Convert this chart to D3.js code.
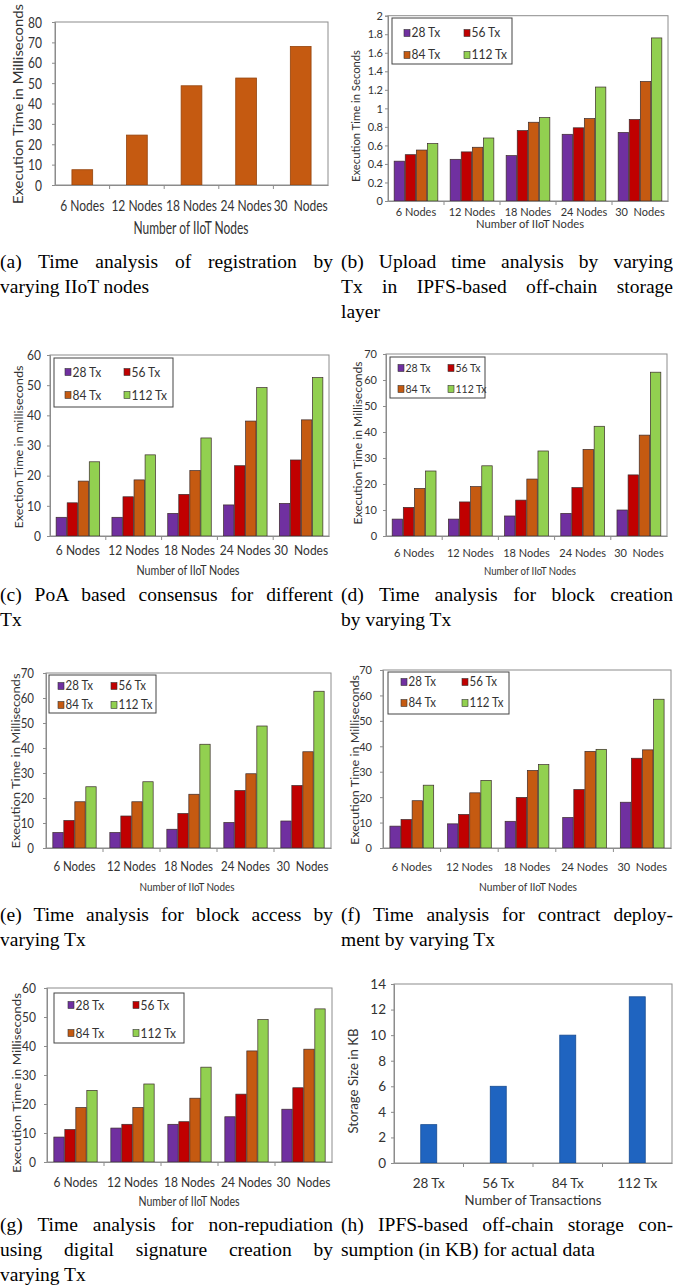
<!DOCTYPE html>
<html>
<head>
<meta charset="utf-8">
<script src="https://cdn.jsdelivr.net/npm/d3@7"></script>
<style>
body { margin: 0; background: #fff; }
svg text { white-space: pre; }
</style>
</head>
<body>
<svg id="fig"></svg>
<script>
var width = 673;
var height = 1288;

// categories and series
var nodeCats = ["6 Nodes", "12 Nodes", "18 Nodes", "24 Nodes", "30  Nodes"];
var txCats = ["28 Tx", "56 Tx", "84 Tx", "112 Tx"];
var txColors = ["#7030A0", "#C00000", "#C55A11", "#92D050"];

// (a) registration, ms
var registration = [7.5, 24.5, 48.7, 52.5, 68];
// (b) upload time, s  (rows: 28, 56, 84, 112 Tx)
var uploadTime = [
    [0.43, 0.45, 0.49, 0.72, 0.74],
    [0.50, 0.53, 0.76, 0.79, 0.88],
    [0.55, 0.58, 0.85, 0.89, 1.29],
    [0.62, 0.68, 0.90, 1.23, 1.76]
];
// (c) PoA consensus, ms
var consensusTime = [
    [6.2, 6.2, 7.5, 10.3, 10.8],
    [11, 13, 13.8, 23.3, 25.2],
    [18.2, 18.6, 21.7, 38.1, 38.5],
    [24.6, 26.9, 32.5, 49.2, 52.5]
];
// (d) block creation, ms
var blockCreation = [
    [6.5, 6.5, 7.7, 8.7, 10],
    [11, 13.1, 13.8, 18.6, 23.5],
    [18.3, 19, 21.9, 33.3, 38.8],
    [25, 27, 32.7, 42.2, 63]
];
// (e) block access, ms
var blockAccess = [
    [6.2, 6.2, 7.5, 10.2, 10.8],
    [11, 12.8, 13.8, 23, 25],
    [18.5, 18.5, 21.5, 29.7, 38.5],
    [24.5, 26.5, 41.5, 48.8, 62.7]
];
// (f) contract deployment, ms
var contractDeploy = [
    [8.6, 9.5, 10.5, 12, 18],
    [11.2, 13.2, 19.9, 23, 35.3],
    [18.6, 21.7, 30.5, 38, 38.6],
    [24.7, 26.6, 32.8, 38.8, 58.5]
];
// (g) signature creation, ms
var signatureTime = [
    [8.6, 11.7, 13, 15.6, 18.2],
    [11.2, 13, 13.9, 23.4, 25.6],
    [18.8, 18.8, 22, 38.3, 38.9],
    [24.7, 26.9, 32.7, 49.1, 52.8]
];
// (h) storage, KB
var storageKB = [3, 6, 10, 13];

// tick values
var ticks80 = [0, 10, 20, 30, 40, 50, 60, 70, 80];
var ticks2 = [0, 0.2, 0.4, 0.6, 0.8, 1, 1.2, 1.4, 1.6, 1.8, 2];
var ticks60 = [0, 10, 20, 30, 40, 50, 60];
var ticks70 = [0, 10, 20, 30, 40, 50, 60, 70];
var ticks14 = [0, 2, 4, 6, 8, 10, 12, 14];

var FONT = "Lato, 'Open Sans', sans-serif";
var SERIF = "'Liberation Serif', 'Times New Roman', serif";

const svg = d3.select('#fig')
    .attr('width', width)
    .attr('height', height);

var panels = [
    { cats: nodeCats, values: registration, color: "#C55A11", left: 55, right: 328, top: 22, bottom: 185, max: 80, ticks: ticks80,
      pad: 0.62, tp: 10, fs: 12, k: 1.35, xl: 26, xt: [191, 234, 115], tfs: 12.5, yt: [23, 104, 200], yLabel: "Execution Time in Milliseconds" },
    { cats: nodeCats, series: uploadTime, left: 388, right: 668, top: 15.7, bottom: 201, max: 2, ticks: ticks2,
      pad: 0.22, tp: 2, fs: 11, k: 1.05, xl: 15, xt: [530, 228, 108], tfs: 11, yt: [360, 116, 132], yLabel: "Execution Time in Seconds",
      legend: { box: [392, 18, 120, 46], cols: [404, 464], rows: [33, 55], fs: 12 } },
    { cats: nodeCats, series: consensusTime, left: 50, right: 329, top: 355, bottom: 536, max: 60, ticks: ticks60,
      pad: 0.22, tp: 6, fs: 12, k: 1.1, xl: 19, xt: [188, 575, 103], tfs: 12, yt: [23, 447, 163], yLabel: "Exection Time in milliseconds",
      legend: { box: [54, 358, 119, 49], cols: [65, 124], rows: [372, 395], fs: 12 } },
    { cats: nodeCats, series: blockCreation, left: 386, right: 667, top: 354, bottom: 536, max: 70, ticks: ticks70,
      pad: 0.22, tp: 6, fs: 11, k: 1.1, xl: 21, xt: [530, 575, 92], tfs: 11, yt: [362, 443, 163], yLabel: "Execution Time in Milliseconds",
      legend: { box: [390, 357, 95, 41], cols: [398, 448], rows: [368, 389], fs: 10.5 } },
    { cats: nodeCats, series: blockAccess, left: 46, right: 331, top: 673, bottom: 848, max: 70, ticks: ticks70,
      pad: 0.24, tp: 9, fs: 11.5, k: 1.1, xl: 23, xt: [187, 891, 95], tfs: 11, yt: [20, 761, 175], yLabel: "Execution Time in Milliseconds",
      legend: { box: [49, 675, 107, 38], cols: [58, 111], rows: [686, 705], fs: 11.5 } },
    { cats: nodeCats, series: contractDeploy, left: 383, right: 671, top: 670, bottom: 848, max: 70, ticks: ticks70,
      pad: 0.24, tp: 8, fs: 11, k: 1.1, xl: 23, xt: [528, 891, 98], tfs: 11, yt: [359, 760, 170], yLabel: "Execution Time in Milliseconds",
      legend: { box: [388, 672, 121, 42], cols: [401, 462], rows: [682, 703], fs: 11.5 } },
    { cats: nodeCats, series: signatureTime, left: 47, right: 332, top: 988, bottom: 1162, max: 60, ticks: ticks60,
      pad: 0.24, tp: 8, fs: 12, k: 1.15, xl: 25, xt: [189, 1206, 101], tfs: 11.5, yt: [21, 1083, 180], yLabel: "Execution Time in Milliseconds",
      legend: { box: [54, 993, 130, 50], cols: [68, 133], rows: [1005, 1033], fs: 12 } },
    { cats: txCats, values: storageKB, color: "#1F64C0", left: 394, right: 672, top: 984, bottom: 1163, max: 14, ticks: ticks14,
      pad: 0.77, tp: 5, fs: 13.5, k: 1, xl: 25, xt: [533, 1205, 137], tfs: 13, yt: [358, 1081, 105], yLabel: "Storage Size in KB",
      xLabel: "Number of Transactions" }
];

panels.forEach(drawPanel);

function drawPanel(p) {
    const g = svg.append('g');
    const k = p.k;
    const x = d3.scaleBand().domain(p.cats).range([p.left, p.right])
        .paddingInner(p.pad).paddingOuter(p.pad / 2);
    const y = d3.scaleLinear().domain([0, p.max]).range([p.bottom, p.top]);

    // plot frame
    g.append('rect')
        .attr('x', p.left).attr('y', p.top)
        .attr('width', p.right - p.left).attr('height', p.bottom - p.top)
        .attr('fill', 'none').attr('stroke', '#8c8c8c');

    if (p.series) {
        const x1 = d3.scaleBand().domain(d3.range(p.series.length))
            .range([0, x.bandwidth()]).paddingInner(0.06);
        g.append('g').selectAll('g')
            .data(p.cats)
            .join('g')
            .attr('transform', c => `translate(${x(c)},0)`)
            .selectAll('rect')
            .data((c, i) => p.series.map((s, j) => ({ j: j, v: s[i] })))
            .join('rect')
            .attr('x', d => x1(d.j))
            .attr('width', x1.bandwidth())
            .attr('y', d => y(d.v))
            .attr('height', d => y(0) - y(d.v))
            .attr('fill', d => txColors[d.j])
            .attr('stroke', '#3b2b2b')
            .attr('stroke-width', 0.7);
    } else {
        g.append('g').selectAll('rect')
            .data(p.values)
            .join('rect')
            .attr('x', (d, i) => x(p.cats[i]))
            .attr('width', x.bandwidth())
            .attr('y', d => y(d))
            .attr('height', d => y(0) - y(d))
            .attr('fill', p.color)
            .attr('stroke', d3.color(p.color).darker(0.8))
            .attr('stroke-width', 0.8);
    }

    // y axis
    const ya = g.append('g')
        .attr('transform', `translate(${p.left},0)`)
        .call(d3.axisLeft(y).tickValues(p.ticks).tickSize(3).tickPadding(p.tp).tickFormat(d => String(d)));
    ya.select('.domain').attr('stroke', '#8c8c8c');
    ya.selectAll('.tick line').attr('stroke', '#8c8c8c');
    ya.selectAll('text')
        .attr('font-family', FONT).attr('font-size', p.fs).attr('fill', '#333')
        .attr('transform', `scale(1,${k})`);

    // x axis
    const xa = g.append('g')
        .attr('transform', `translate(0,${p.bottom})`)
        .call(d3.axisBottom(x).tickSize(0).tickPadding(0));
    xa.select('.domain').attr('stroke', '#8c8c8c');
    xa.selectAll('text')
        .attr('dy', null).attr('y', p.xl / k)
        .attr('font-family', FONT).attr('font-size', p.fs).attr('fill', '#333')
        .attr('transform', `scale(1,${k})`);

    // separators between categories
    const off = x.step() * p.pad / 2;
    g.append('g').selectAll('line')
        .data(p.cats.slice(1))
        .join('line')
        .attr('x1', c => x(c) - off).attr('x2', c => x(c) - off)
        .attr('y1', p.bottom).attr('y2', p.bottom + 4)
        .attr('stroke', '#8c8c8c');

    // axis titles
    g.append('text')
        .attr('transform', `translate(${p.xt[0]},${p.xt[1]}) scale(1,${k})`)
        .attr('text-anchor', 'middle')
        .attr('textLength', p.xt[2]).attr('lengthAdjust', 'spacingAndGlyphs')
        .attr('font-family', FONT).attr('font-size', p.tfs).attr('fill', '#333')
        .text(p.xLabel || "Number of IIoT Nodes");
    g.append('text')
        .attr('transform', `translate(${p.yt[0]},${p.yt[1]}) rotate(-90)`)
        .attr('text-anchor', 'middle')
        .attr('textLength', p.yt[2]).attr('lengthAdjust', 'spacingAndGlyphs')
        .attr('font-family', FONT).attr('font-size', p.tfs).attr('fill', '#333')
        .text(p.yLabel);

    // legend
    if (p.legend) {
        const L = p.legend;
        const lg = g.append('g');
        lg.append('rect')
            .attr('x', L.box[0]).attr('y', L.box[1])
            .attr('width', L.box[2]).attr('height', L.box[3])
            .attr('fill', '#fff').attr('stroke', '#444');
        const item = lg.selectAll('g.item')
            .data(txCats)
            .join('g')
            .attr('class', 'item')
            .attr('transform', (d, i) => `translate(${L.cols[i % 2]},${L.rows[Math.floor(i / 2)]})`);
        item.append('rect')
            .attr('x', 0).attr('y', -3.5).attr('width', 6).attr('height', 7)
            .attr('fill', (d, i) => txColors[i])
            .attr('stroke', '#333').attr('stroke-width', 0.6);
        item.append('text')
            .attr('x', 7.5).attr('dy', '0.35em')
            .attr('transform', `scale(1,${k})`)
            .attr('font-family', FONT).attr('font-size', L.fs).attr('fill', '#333')
            .text(d => d);
    }
}

// sub-figure captions
var capLeft = [0, 333];
var capRight = [341, 673];
var captions = [
    { col: capLeft, y0: 268, lines: ["(a) Time analysis of registration by", "varying IIoT nodes"] },
    { col: capRight, y0: 268, lines: ["(b) Upload time analysis by varying", "Tx in IPFS-based off-chain storage", "layer"] },
    { col: capLeft, y0: 601, lines: ["(c) PoA based consensus for different", "Tx"] },
    { col: capRight, y0: 601, lines: ["(d) Time analysis for block creation", "by varying Tx"] },
    { col: capLeft, y0: 921, lines: ["(e) Time analysis for block access by", "varying Tx"] },
    { col: capRight, y0: 921, lines: ["(f) Time analysis for contract deploy-", "ment by varying Tx"] },
    { col: capLeft, y0: 1231, lines: ["(g) Time analysis for non-repudiation", "using digital signature creation by", "varying Tx"] },
    { col: capRight, y0: 1231, lines: ["(h) IPFS-based off-chain storage con-", "sumption (in KB) for actual data"] }
];

captions.forEach(function(c) {
    c.lines.forEach(function(line, i) {
        const t = svg.append('text')
            .attr('x', c.col[0])
            .attr('y', c.y0 + i * 25)
            .attr('font-family', SERIF)
            .attr('font-size', 19.5)
            .attr('fill', '#000')
            .text(line);
        if (i < c.lines.length - 1) {
            // justify by widening the word gaps
            const natural = t.node().getComputedTextLength();
            const gaps = (line.match(/ /g) || []).length;
            const target = c.col[1] - c.col[0];
            if (natural > target) {
                t.attr('textLength', target).attr('lengthAdjust', 'spacingAndGlyphs');
            } else if (gaps > 0) {
                t.attr('word-spacing', (target - natural) / gaps);
            }
        }
    });
});
</script>
</body>
</html>
